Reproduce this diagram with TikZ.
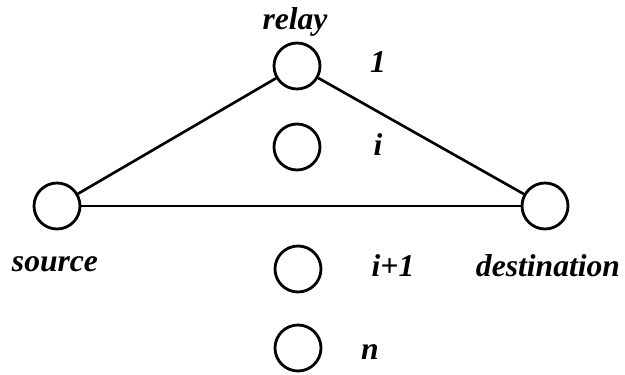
\documentclass[tikz,border=0pt]{standalone}
\usepackage{fontspec}
\setmainfont{Liberation Serif}
\usetikzlibrary{positioning}

\begin{document}
\begin{tikzpicture}[x=0.02cm, y=-0.02cm,
  stn/.style={circle, draw=black, line width=1.6pt, minimum size=0.92cm, inner sep=0pt},
  lab/.style={font=\fontsize{18}{21}\selectfont\bfseries\itshape, inner sep=1pt},
  lnk/.style={line width=1.5pt, black}
]
  \useasboundingbox (0,0) rectangle (625,375);
  \node[stn] (relay) at (297,66) {};
  \node[stn] (ri) at (297,147) {};
  \node[stn] (src) at (57,206) {};
  \node[stn] (dst) at (545,206) {};
  \node[stn] (rj) at (298,269) {};
  \node[stn] (rn) at (298,348) {};

  \node[lab] (lrelay) at (295,22) {relay};
  \node[lab] (l1) at (378,62) {1};
  \node[lab] (li) at (378,145) {i};
  \node[lab] (lj) at (393,266) {i+1};
  \node[lab] (ln) at (370,352) {n};
  \node[lab] (lsrc) at (55,264) {source};
  \node[lab] (ldst) at (548,266) {destination};

  \draw[lnk] (src) -- (relay);
  \draw[lnk] (relay) -- (dst);
  \draw[lnk] (src) -- (dst);
\end{tikzpicture}
\end{document}
